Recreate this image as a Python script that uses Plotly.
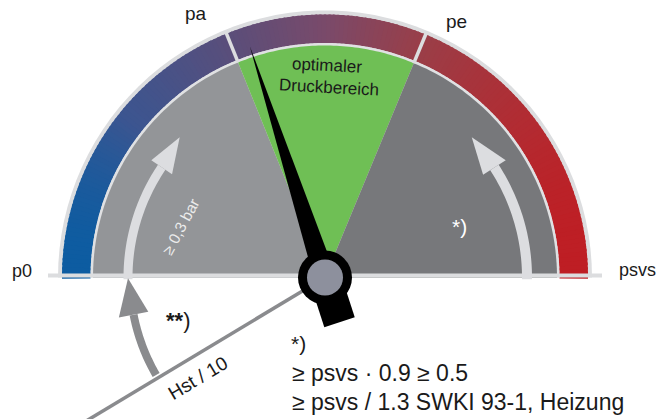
import numpy as np
import plotly.graph_objects as go

# ---------------- data ----------------
zone_names = ["p0 .. pa", "optimaler Druckbereich", "pe .. psvs"]
zone_angles = [180.0, 112.0, 67.5, 0.0]          # gauge scale boundaries (deg)
zone_colors = ["#939598", "#6fbf55", "#77787b"]
scale_labels = ["p0", "pa", "pe", "psvs"]
needle_angle = 108.0                               # needle reading (deg)
hst_angle = 211.0                                  # Hst / 10 reference line (deg)
band_stop_x = [62, 130, 230, 325, 420, 530, 589]
band_stop_col = ["#005ea6", "#3c5590", "#5a4e7a", "#7a4a6a", "#9a3e48", "#b42a30", "#c21a20"]

# ---------------- geometry ----------------
W, H = 668, 419
CX, CY = 325.0, H - 277.5
R_BORDER, R_BAND_O, R_BAND_I, R_GAP, R_SECT = 267, 263, 234.5, 234.5, 232
LIGHT = "#dcdddf"
FONT = "Liberation Sans, Arial, sans-serif"


def py(ypx):
    return H - ypx


def pt(r, a):
    t = np.radians(a)
    return CX + r * np.cos(t), CY + r * np.sin(t)


def arc_pts(r, a0, a1, n=60):
    return [pt(r, a) for a in np.linspace(a0, a1, n)]


def path_from(points):
    s = "M %.2f,%.2f " % points[0]
    s += " ".join("L %.2f,%.2f" % p for p in points[1:])
    return s + " Z"


def sector(r, a0, a1):
    return path_from([(CX, CY)] + arc_pts(r, a0, a1))


def annulus(r_in, r_out, a0, a1, n=40):
    return path_from(arc_pts(r_out, a0, a1, n) + arc_pts(r_in, a1, a0, n))


def hex2rgb(h):
    h = h.lstrip("#")
    return [int(h[i:i + 2], 16) for i in (0, 2, 4)]


stops_rgb = np.array([hex2rgb(c) for c in band_stop_col], dtype=float)


def band_color(x):
    rgb = [np.interp(x, band_stop_x, stops_rgb[:, k]) for k in range(3)]
    return "rgb(%d,%d,%d)" % tuple(int(round(v)) for v in rgb)


shapes = []


def add_path(p, fill, line_color=None, lw=0):
    shapes.append(dict(type="path", path=p, fillcolor=fill,
                       line=dict(color=line_color or fill, width=lw), layer="above"))


# outer light border half-disc
add_path(sector(R_BORDER, 0, 180), LIGHT)
# gradient band
nseg = 180
edges = np.linspace(0, 180, nseg + 1)
for i in range(nseg):
    a0, a1 = edges[i], edges[i + 1]
    xm = pt((R_BAND_O + R_BAND_I) / 2, (a0 + a1) / 2)[0]
    add_path(annulus(R_BAND_I, R_BAND_O, a0 - 0.25, a1 + 0.25, 4), band_color(xm))
# light gap
add_path(sector(R_GAP, 0, 180), "#e0e1e3")
# zones
for k in range(3):
    add_path(sector(R_SECT, zone_angles[k + 1], zone_angles[k]), zone_colors[k])
# dividers in band at pa and pe
for a in zone_angles[1:3]:
    x0, y0 = pt(R_SECT, a)
    x1, y1 = pt(R_BORDER - 1, a)
    shapes.append(dict(type="line", x0=x0, y0=y0, x1=x1, y1=y1,
                       line=dict(color=LIGHT, width=3.5), layer="above"))

# baseline strip
shapes.append(dict(type="rect", x0=48, x1=602, y0=py(277.5), y1=py(273.5),
                   fillcolor=LIGHT, line=dict(width=0), layer="above"))


def arrow(r, a_start, a_head, a_tip, w, hw, color, r_tip=None):
    r_tip = r if r_tip is None else r_tip
    add_path(annulus(r - w / 2, r + w / 2, min(a_start, a_head), max(a_start, a_head), 40), color)
    add_path(path_from([pt(r - hw, a_head), pt(r + hw, a_head), pt(r_tip, a_tip)]), color)


# light arrows inside gauge
arrow(197, 180.5, 146.0, 136.0, 9, 12.5, "#dcdde0", 202)
arrow(202, -0.5, 33.0, 43.7, 10, 13.5, "#dcdde0", 203)

# Hst / 10 line
hx, hy = pt(280, hst_angle)
shapes.append(dict(type="line", x0=CX, y0=CY, x1=hx, y1=hy,
                   line=dict(color="#8a8b8e", width=3.5), layer="above"))
# ** arrow from Hst line up to baseline
arrow(195, 210.0, 191.0, 180.2, 8, 15, "#8a8b8e", 197)

# needle
t = np.radians(needle_angle)
perp = np.array([-np.sin(t), np.cos(t)])
tipx, tipy = pt(243, needle_angle)
b1 = (CX + 11 * perp[0], CY + 11 * perp[1])
b2 = (CX - 11 * perp[0], CY - 11 * perp[1])
add_path(path_from([b1, (tipx, tipy), b2]), "#000000")
# tail
ta = needle_angle + 180
tx, ty = pt(47, ta)
tp = np.array([-np.sin(np.radians(ta)), np.cos(np.radians(ta))]) * 16
add_path(path_from([(CX + tp[0], CY + tp[1]), (tx + tp[0], ty + tp[1]),
                    (tx - tp[0], ty - tp[1]), (CX - tp[0], CY - tp[1])]), "#000000")
# hub
shapes.append(dict(type="circle", x0=CX - 27, x1=CX + 27, y0=CY - 27, y1=CY + 27,
                   fillcolor="#000000", line=dict(width=0), layer="above"))
shapes.append(dict(type="circle", x0=CX - 18, x1=CX + 18, y0=CY - 18, y1=CY + 18,
                   fillcolor="#8d909d", line=dict(width=0), layer="above"))

# ---------------- text ----------------
ann = []


def label(text, x, ypx, size, color="#1a1a1a", angle=0, xanchor="center"):
    ann.append(dict(text=text, x=x, y=py(ypx), xref="x", yref="y", showarrow=False,
                    textangle=angle, xanchor=xanchor, yanchor="middle",
                    font=dict(family=FONT, size=size, color=color)))


label(scale_labels[0], 22, 271, 18)
label(scale_labels[1], 196, 13, 19)
label(scale_labels[2], 456.5, 21, 19)
label(scale_labels[3], 637, 270, 18)
label("optimaler", 327, 65, 17, angle=3)
label("Druckbereich", 329, 87, 17, angle=3)
label("≥ 0,3 bar", 180, 227, 15.5, color="#ececec", angle=-62)
label("*)", 459, 226, 21, color="#ffffff")
label("<b>**</b>)", 178, 320, 22)
label("Hst / 10", 197, 378, 19, angle=-31)
label("*)", 298, 343, 21)
label("≥ psvs · 0.9 ≥ 0.5", 290, 373, 23, xanchor="left")
label("≥ psvs / 1.3 SWKI 93-1, Heizung", 290, 402, 23, xanchor="left")

fig = go.Figure()
fig.update_layout(
    width=W, height=H, margin=dict(l=0, r=0, t=0, b=0),
    paper_bgcolor="white", plot_bgcolor="white",
    xaxis=dict(range=[0, W], visible=False, fixedrange=True),
    yaxis=dict(range=[0, H], visible=False, fixedrange=True),
    shapes=shapes, annotations=ann, showlegend=False, hovermode=False,
)
fig.write_html("out.html", config={"displayModeBar": False},
               post_script="document.body.style.margin='0px';document.body.style.overflow='hidden';")
